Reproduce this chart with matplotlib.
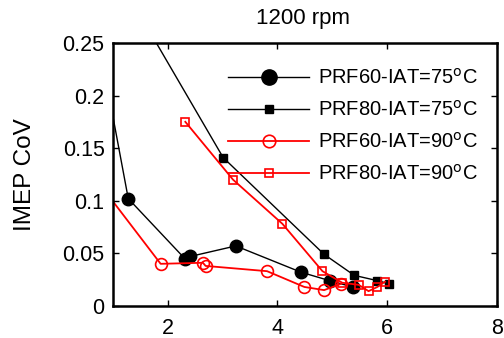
import numpy as np
import matplotlib.pyplot as plt

plt.rcParams['font.family'] = ['Liberation Sans', 'DejaVu Sans']

# PRF60, IAT=75C (first point lies left of the axes)
x_prf60_75 = [0.8, 1.28, 2.31, 2.41, 3.24, 4.43, 4.95, 5.37]
y_prf60_75 = [0.236, 0.102, 0.045, 0.047, 0.057, 0.032, 0.024, 0.018]

# PRF80, IAT=75C (first point lies above the axes)
x_prf80_75 = [1.3, 3.01, 4.85, 5.40, 5.82, 6.03]
y_prf80_75 = [0.294, 0.141, 0.049, 0.029, 0.024, 0.021]

# PRF60, IAT=90C (first point lies left of the axes)
x_prf60_90 = [0.8, 1.87, 2.64, 2.69, 3.81, 4.49, 4.85, 5.16]
y_prf60_90 = [0.113, 0.040, 0.041, 0.038, 0.033, 0.018, 0.015, 0.021]

# PRF80, IAT=90C
x_prf80_90 = [2.32, 3.19, 4.09, 4.82, 5.18, 5.48, 5.66, 5.82, 5.96]
y_prf80_90 = [0.175, 0.120, 0.078, 0.033, 0.022, 0.020, 0.014, 0.018, 0.023]

fig = plt.figure(figsize=(5.04, 3.38), dpi=100)
ax = fig.add_axes([0.224, 0.095, 0.762, 0.778])

ax.plot(x_prf60_75, y_prf60_75, '-o', color='k', lw=1.0, ms=9,
        mfc='k', label=r'PRF60-IAT=75$^{\mathrm{o}}$C')
ax.plot(x_prf80_75, y_prf80_75, '-s', color='k', lw=1.0, ms=5.5,
        mfc='k', label=r'PRF80-IAT=75$^{\mathrm{o}}$C')
ax.plot(x_prf60_90, y_prf60_90, '-o', color='red', lw=1.3, ms=8.5,
        mfc='none', mew=1.2, label=r'PRF60-IAT=90$^{\mathrm{o}}$C')
ax.plot(x_prf80_90, y_prf80_90, '-s', color='red', lw=1.3, ms=5.5,
        mfc='none', mew=1.2, label=r'PRF80-IAT=90$^{\mathrm{o}}$C')

ax.set_xlim(1, 8)
ax.set_ylim(0, 0.25)
ax.set_xticks([2, 4, 6, 8])
ax.set_yticks([0, 0.05, 0.1, 0.15, 0.2, 0.25])
ax.set_yticklabels(['0', '0.05', '0.1', '0.15', '0.2', '0.25'])
ax.tick_params(direction='in', top=True, right=True, labelsize=15.5, length=4,
               width=1, pad=6)
ax.tick_params(axis='x', pad=9)
for s in ax.spines.values():
    s.set_linewidth(1.8)

ax.set_ylabel('IMEP CoV', fontsize=17.5)
ax.yaxis.set_label_coords(-0.2, 0.5)
fig.text(0.601, 0.944, '1200 rpm', fontsize=16, ha='center', va='center')

leg = ax.legend(loc='upper right', bbox_to_anchor=(0.95, 0.905), frameon=False,
                fontsize=14.5, handlelength=4.0, labelspacing=0.6,
                handletextpad=0.45, borderaxespad=0, borderpad=0)
leg.legend_handles[0].set_markersize(11)
leg.legend_handles[2].set_markersize(9)

fig.savefig('out.png', dpi=100)
